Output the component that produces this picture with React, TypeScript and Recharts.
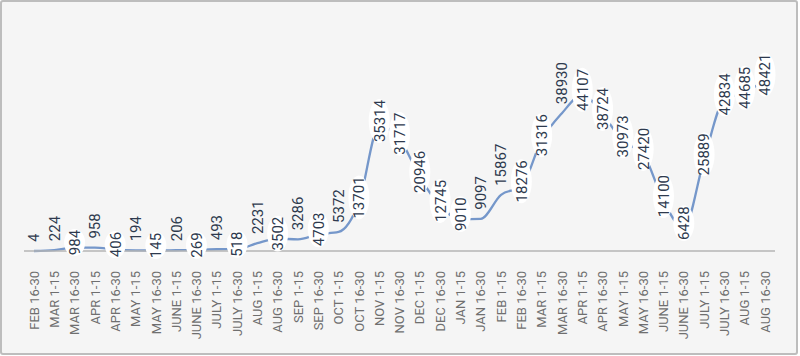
import React from "react";
import { LineChart, Line, XAxis, YAxis, LabelList } from "recharts";

const categories = [
  "FEB 16-30", "MAR 1-15", "MAR 16-30", "APR 1-15", "APR 16-30", "MAY 1-15", "MAY 16-30",
  "JUNE 1-15", "JUNE 16-30", "JULY 1-15", "JULY 16-30", "AUG 1-15", "AUG 16-30", "SEP 1-15",
  "SEP 16-30", "OCT 1-15", "OCT 16-30", "NOV 1-15", "NOV 16-30", "DEC 1-15", "DEC 16-30",
  "JAN 1-15", "JAN 16-30", "FEB 1-15", "FEB 16-30", "MAR 1-15", "MAR 16-30", "APR 1-15",
  "APR 16-30", "MAY 1-15", "MAY 16-30", "JUNE 1-15", "JUNE 16-30", "JULY 1-15", "JULY 16-30",
  "AUG 1-15", "AUG 16-30",
];

const values = [
  4, 224, 984, 958, 406, 194, 145, 206, 269, 493, 518, 2231, 3502, 3286, 4703, 5372, 13701,
  35314, 31717, 20946, 12745, 9010, 9097, 15867, 18276, 31316, 38930, 44107, 38724, 30973,
  27420, 14100, 6428, 25889, 42834, 44685, 48421,
];

// label placement: "c" = on the point with white badge, "a" = above the point
const labelModes = [
  "a", "a", "c", "a", "c", "a", "c", "a", "c", "a", "c", "a", "c", "a", "c", "a", "c",
  "c", "c", "c", "c", "c", "a", "a", "c", "c", "a", "c", "c", "c", "c", "c", "c", "c",
  "c", "c", "c",
];

const data = categories.map((c, i) => ({ key: i, cat: c, value: values[i], mode: labelModes[i] }));

const LINE_COLOR = "#7597ca";
const LABEL_COLOR = "#2e3a4e";
const FONT = "Roboto, 'Noto Sans', sans-serif";

const AxisTick = (props: any) => {
  const { x, y, payload } = props;
  const label = categories[payload.value] ?? "";
  return (
    <g transform={`translate(${x},${y})`}>
      <text
        transform="rotate(-90)"
        x={-12}
        y={0}
        dy="0.36em"
        textAnchor="end"
        fill="#6f6f6f"
        fontSize={13}
        fontFamily={FONT}
      >
        {label}
      </text>
    </g>
  );
};

const PointLabel = (props: any) => {
  const { x, y, value, index } = props;
  const mode = labelModes[index];
  const s = String(value);
  const len = s.length * 8.4;
  if (mode === "c") {
    const cy = y - 5;
    return (
      <g>
        <ellipse cx={x} cy={cy} rx={10.5} ry={Math.max(10.5, len / 2 + 1)} fill="#ffffff" />
        <text
          transform={`translate(${x},${cy}) rotate(-90)`}
          x={0}
          y={0}
          dy="0.36em"
          textAnchor="middle"
          fill={LABEL_COLOR}
          fontSize={15}
          fontFamily={FONT}
        >
          {s}
        </text>
      </g>
    );
  }
  return (
    <text
      transform={`translate(${x},${y}) rotate(-90)`}
      x={9}
      y={0}
      dy="0.36em"
      textAnchor="start"
      fill={LABEL_COLOR}
      fontSize={15}
      fontFamily={FONT}
    >
      {s}
    </text>
  );
};

export default function App() {
  return (
    <div
      style={{
        position: "absolute",
        left: 0,
        top: 0,
        width: 798,
        height: 355,
        background: "#f5f5f5",
        boxShadow: "inset 0 0 0 2px #bdbdbd",
        borderRadius: 3,
      }}
    >
      <LineChart
        width={798}
        height={355}
        data={data}
        margin={{ top: 74, right: 23, left: 24, bottom: 4 }}
      >
        <XAxis
          dataKey="key"
          type="category"
          interval={0}
          height={100}
          tickLine={false}
          axisLine={{ stroke: "#b5b5b5", strokeWidth: 1.5 }}
          padding={{ left: 10, right: 10 }}
          tick={<AxisTick />}
        />
        <YAxis hide domain={[0, 50000]} />
        <Line
          type="monotone"
          dataKey="value"
          stroke={LINE_COLOR}
          strokeWidth={2.3}
          dot={false}
          activeDot={false}
          isAnimationActive={false}
        >
          <LabelList dataKey="value" content={<PointLabel />} />
        </Line>
      </LineChart>
    </div>
  );
}
